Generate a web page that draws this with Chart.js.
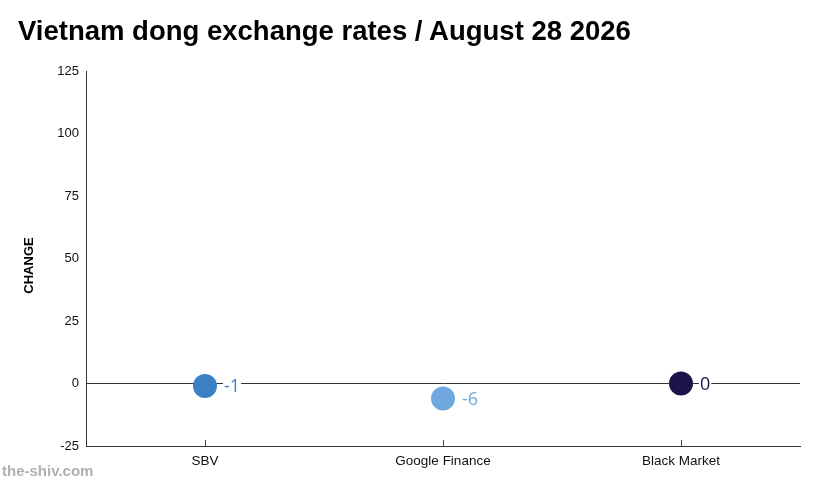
<!DOCTYPE html>
<html>
<head>
<meta charset="utf-8">
<script src="https://cdn.jsdelivr.net/npm/chart.js@4"></script>
<style>
  html, body { margin: 0; padding: 0; background: #fff; }
  #wrap { position: relative; width: 815px; height: 487px; }
  #title { position: absolute; left: 18px; top: 15px; font: bold 27.5px "Liberation Sans", Arial, sans-serif; color: #000; white-space: nowrap; }
  #mark { position: absolute; left: 2px; top: 462px; font: bold 15px "Liberation Sans", Arial, sans-serif; color: #b0b0b0; }
  canvas { position: absolute; left: 0; top: 0; }
</style>
</head>
<body>
<div id="wrap">
  <canvas id="rateChart" width="815" height="487"></canvas>
  <div id="title">Vietnam dong exchange rates / August 28 2026</div>
  <div id="mark">the-shiv.com</div>
</div>
<script>
// data
const sources = ['SBV', 'Google Finance', 'Black Market'];
const changes = [-1, -6, 0];
const pointColors = ['#3b80c5', '#6ea8dd', '#1e1349'];
const yTicks = [-25, 0, 25, 50, 75, 100, 125];
const yTitle = 'CHANGE';

// value label next to each dot, white box behind it
const valueLabels = {
    id: 'valueLabels',
    afterDatasetsDraw(chart) {
        const ctx = chart.ctx;
        const meta = chart.getDatasetMeta(0);
        ctx.save();
        ctx.font = '18px "Open Sans", sans-serif';
        ctx.textBaseline = 'middle';
        meta.data.forEach((pt, i) => {
            const text = String(changes[i]);
            const x = pt.x + 19;
            const w = ctx.measureText(text).width;
            ctx.fillStyle = '#fff';
            ctx.fillRect(x - 1, pt.y - 8, w + 2, 16);
            ctx.fillStyle = pointColors[i];
            ctx.fillText(text, x, pt.y + 1);
        });
        ctx.restore();
    }
};

// small category ticks drawn just above the x axis line + rotated y title
const extras = {
    id: 'extras',
    afterDraw(chart) {
        const ctx = chart.ctx;
        const xScale = chart.scales.x;
        const area = chart.chartArea;
        ctx.save();
        ctx.strokeStyle = '#444';
        ctx.lineWidth = 1;
        sources.forEach((s, i) => {
            const x = Math.round(xScale.getPixelForValue(i)) + 0.5;
            ctx.beginPath();
            ctx.moveTo(x, area.bottom - 6);
            ctx.lineTo(x, area.bottom);
            ctx.stroke();
        });
        ctx.translate(29.5, (area.top + area.bottom) / 2 + 7);
        ctx.rotate(-Math.PI / 2);
        ctx.font = 'bold 13px "Liberation Sans", Arial, sans-serif';
        ctx.fillStyle = '#000';
        ctx.textAlign = 'center';
        ctx.textBaseline = 'middle';
        ctx.fillText(yTitle, 0, 0);
        ctx.restore();
    }
};

const ctx = document.getElementById('rateChart').getContext('2d');
new Chart(ctx, {
    type: 'line',
    data: {
        labels: sources,
        datasets: [{
            label: 'Change',
            data: changes,
            showLine: false,
            pointRadius: 12,
            pointHoverRadius: 12,
            pointBorderWidth: 0,
            pointBackgroundColor: pointColors,
            pointBorderColor: pointColors
        }]
    },
    options: {
        responsive: false,
        animation: false,
        events: [],
        layout: { padding: { top: 71, right: 15, left: 0, bottom: 0 } },
        plugins: {
            legend: { display: false },
            tooltip: { enabled: false }
        },
        scales: {
            x: {
                offset: true,
                afterFit: (scale) => { scale.height = 41; },
                grid: { display: false, drawTicks: false },
                border: { display: true, color: '#333', width: 1 },
                ticks: { color: '#111', padding: 7, font: { family: '"Liberation Sans", Arial, sans-serif', size: 13.5 } }
            },
            y: {
                min: -25,
                max: 125,
                afterFit: (scale) => { scale.width = 86; },
                afterBuildTicks: (scale) => { scale.ticks = yTicks.map(v => ({ value: v })); },
                grid: {
                    drawTicks: false,
                    color: (c) => (c.tick && c.tick.value === 0 ? '#333' : 'rgba(0,0,0,0)'),
                    lineWidth: 1
                },
                border: { display: true, color: '#333', width: 1 },
                ticks: { color: '#111', padding: 7, font: { family: '"Liberation Sans", Arial, sans-serif', size: 13 } }
            }
        }
    },
    plugins: [valueLabels, extras]
});
</script>
</body>
</html>
